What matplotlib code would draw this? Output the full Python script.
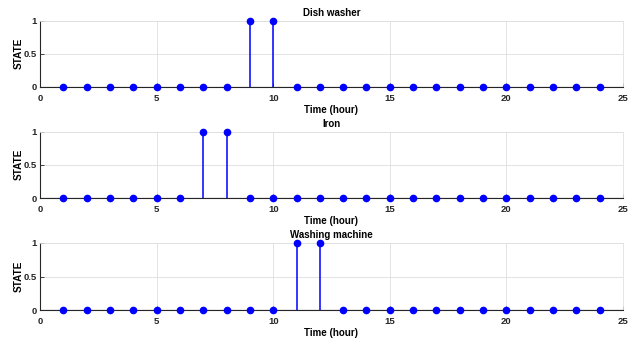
import matplotlib
matplotlib.use("Agg")
import matplotlib.pyplot as plt
import numpy as np

hours = list(range(1, 25))
titles = ["Dish washer", "Iron", "Washing machine"]
dish_washer = [0]*8 + [1, 1] + [0]*14
iron = [0]*6 + [1, 1] + [0]*16
washing_machine = [0]*10 + [1, 1] + [0]*12
series = [dish_washer, iron, washing_machine]
xticks = [0, 5, 10, 15, 20, 25]
yticks = [0, 0.5, 1]
ytick_labels = ["0", "0.5", "1"]

plt.rcParams['font.family'] = ['Liberation Sans', 'DejaVu Sans']
fig = plt.figure(figsize=(6.38, 3.43), dpi=100)
W, H = 638, 343
left, right = 40, 623
tops = [20.5, 131.5, 243]
bots = [87, 198, 310]

for i in range(3):
    h = bots[i] - tops[i]
    ax = fig.add_axes([left/W, 1-bots[i]/H, (right-left)/W, h/H])
    vals = series[i]
    ml, sl, bl = ax.stem(hours, vals, basefmt=' ')
    plt.setp(sl, color='#0000ff', linewidth=1.1)
    plt.setp(ml, color='#0000ff', markersize=4.5, markeredgecolor='#0000ff')
    ax.axhline(0, color='#262626', linewidth=0.8, zorder=1)
    ax.set_xlim(0, 25)
    ax.set_ylim(0, 1)
    ax.set_xticks(xticks)
    ax.set_yticks(yticks)
    ax.set_yticklabels(ytick_labels)
    ax.grid(True, color='#dedede', linewidth=0.6)
    ax.set_axisbelow(True)
    for s in ['top', 'right']:
        ax.spines[s].set_color('#e0e0e0')
        ax.spines[s].set_linewidth(0.6)
    for s in ['left', 'bottom']:
        ax.spines[s].set_color('#262626')
        ax.spines[s].set_linewidth(0.8)
    ax.tick_params(direction='in', length=3, width=0.6, colors='#262626', labelsize=6.8)
    ax.tick_params(axis='x', pad=5)
    ax.tick_params(axis='y', pad=2.5)
    for lab in ax.get_xticklabels() + ax.get_yticklabels():
        lab.set_fontweight('bold')
    ax.set_title(titles[i], fontsize=7, fontweight='bold', y=1 + 7.8/h, va='center', pad=0)
    ax.set_xlabel('Time (hour)', fontsize=7, fontweight='bold', va='center')
    ax.xaxis.set_label_coords(0.5, -23/h)
    ax.set_ylabel('STATE', fontsize=7.2, fontweight='bold', va='center')
    ax.yaxis.set_label_coords(-21.5/(right-left), 0.5)
    ml.set_clip_on(False)
    ml.set_zorder(5)

fig.savefig('out.png', dpi=100)
